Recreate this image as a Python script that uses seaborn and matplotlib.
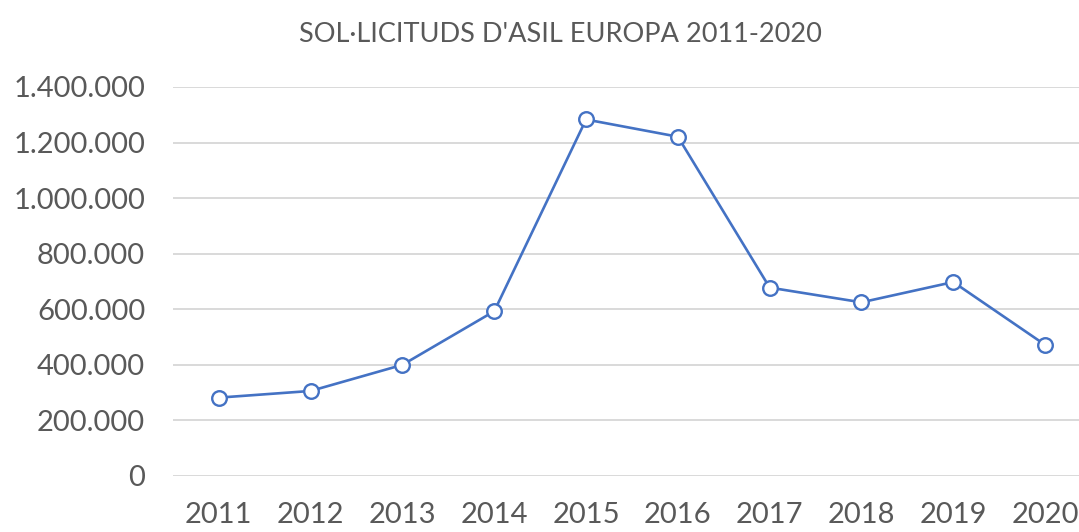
import pandas as pd
import matplotlib.pyplot as plt
import matplotlib.ticker as mticker
import seaborn as sns

# --- Data ---
years = ['2011', '2012', '2013', '2014', '2015', '2016', '2017', '2018', '2019', '2020']
applications = [282000, 306000, 400000, 593000, 1283000, 1221000, 678000, 625000, 698000, 472000]
y_ticks = [0, 200000, 400000, 600000, 800000, 1000000, 1200000, 1400000]

df = pd.DataFrame({'year': years, 'applications': applications})

sns.set_style('white')
plt.rcParams['font.family'] = ['Lato', 'DejaVu Sans']

text_grey = '#595959'
line_blue = '#4472C4'

fig = plt.figure(figsize=(10.79, 5.32), dpi=100)
ax = fig.add_axes([0.1603, 0.1053, 0.8508, 0.7312])

sns.lineplot(data=df, x='year', y='applications', ax=ax, color=line_blue,
             linewidth=1.9, marker='o', markersize=10.5, markerfacecolor='white',
             markeredgecolor=line_blue, markeredgewidth=1.7, sort=False, zorder=3)

ax.set_xlim(-0.5, len(years) - 0.5)
ax.set_ylim(0, 1400000)
ax.set_yticks(y_ticks)
ax.yaxis.set_major_formatter(mticker.FuncFormatter(lambda v, p: f'{int(v):,}'.replace(',', '.')))
ax.grid(axis='y', color='#D9D9D9', linewidth=1.4)
ax.set_axisbelow(True)
for s in ax.spines.values():
    s.set_visible(False)
ax.tick_params(axis='both', length=0, labelsize=21, labelcolor=text_grey)
ax.tick_params(axis='y', pad=20)
ax.tick_params(axis='x', pad=19)
ax.set_xlabel('')
ax.set_ylabel('')

fig.text(0.519, 0.935, "SOL·LICITUDS D'ASIL EUROPA 2011-2020", ha='center', va='center',
         fontsize=19.5, color=text_grey)

fig.savefig('out.png', dpi=100)
